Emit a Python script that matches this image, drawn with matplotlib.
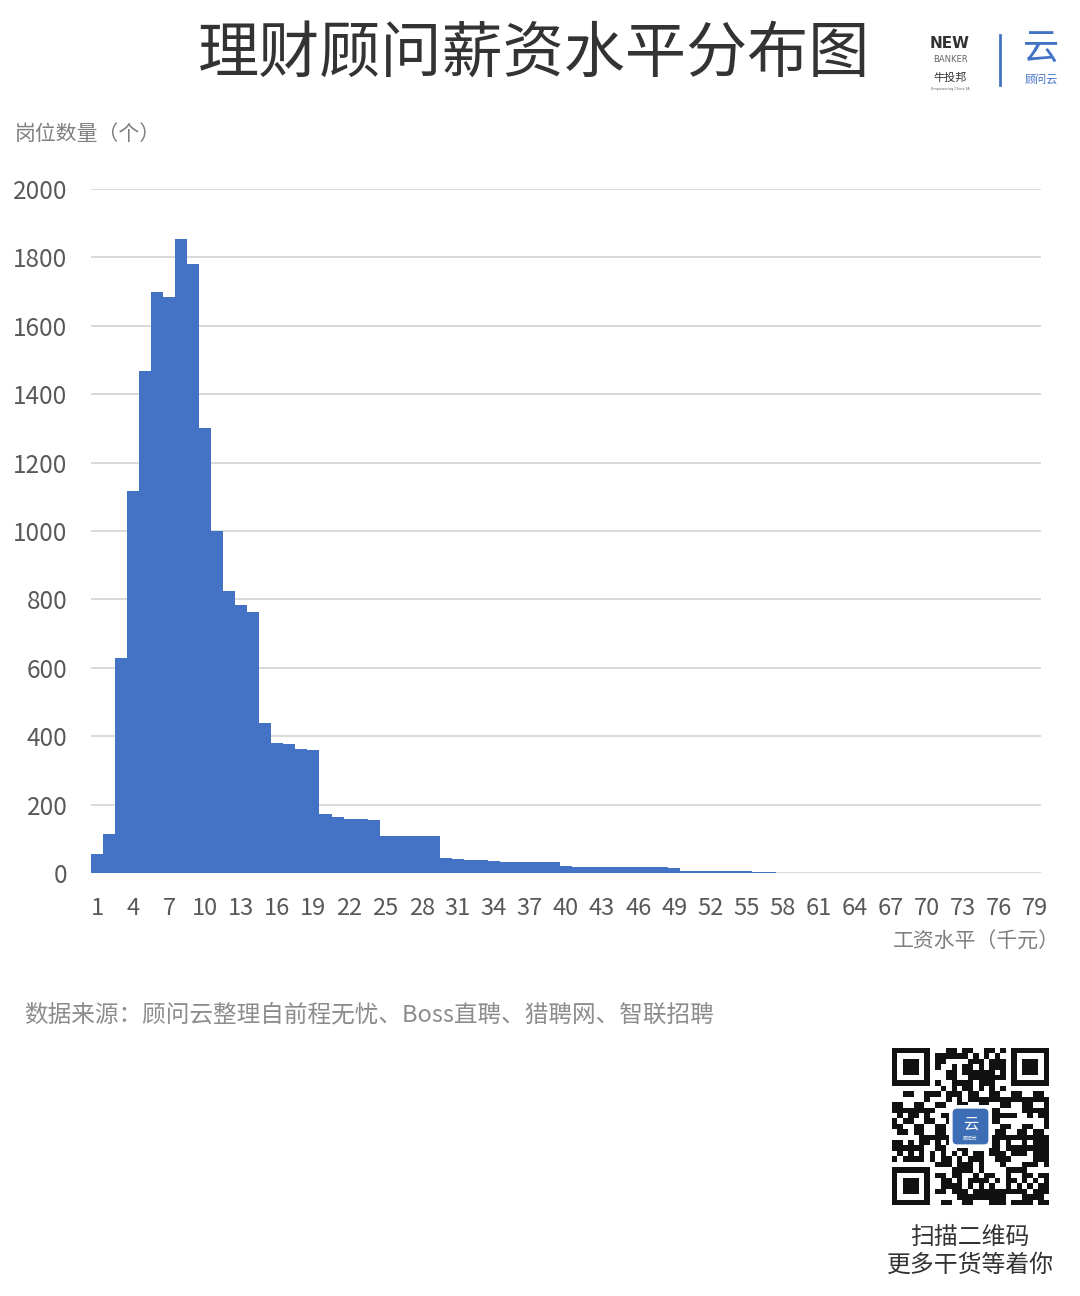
import matplotlib
matplotlib.use("Agg")
import matplotlib.pyplot as plt
from matplotlib.patches import FancyBboxPatch, Rectangle
import numpy as np

plt.rcParams['font.family'] = ['Noto Sans CJK SC', 'DejaVu Sans']

# ---------------- data ----------------
salary_levels = list(range(1, 80))   # 千元
job_counts = [
    55, 113, 629, 1116, 1468, 1698, 1684, 1855, 1780, 1300,
    1000, 825, 785, 763, 440, 380, 378, 362, 360, 173,
    164, 159, 158, 156, 109, 107, 107, 107, 107, 44,
    41, 39, 37, 35, 33, 32, 32, 31, 31, 21,
    18, 17, 17, 17, 17, 17, 17, 17, 16, 5,
    5, 5, 5, 5, 5, 4, 4, 0, 0, 0,
    0, 0, 0, 0, 0, 0, 0, 0, 0, 0,
    0, 0, 0, 0, 0, 0, 0, 0, 0,
]
x_ticks = list(range(1, 80, 3))
y_ticks = [0, 200, 400, 600, 800, 1000, 1200, 1400, 1600, 1800, 2000]

title = "理财顾问薪资水平分布图"
y_label = "岗位数量（个）"
x_label = "工资水平（千元）"
source = "数据来源：顾问云整理自前程无忧、Boss直聘、猎聘网、智联招聘"
qr_text1 = "扫描二维码"
qr_text2 = "更多干货等着你"

BLUE = '#4472C4'
W, H = 1080, 1296

fig = plt.figure(figsize=(W / 100, H / 100), dpi=100)
fig.patch.set_facecolor('white')

def fx(px):
    return px / W

def fy(py):
    return 1 - py / H

ax = fig.add_axes([fx(91), fy(873), fx(1041) - fx(91), fy(189) - fy(873)])
ax.bar(salary_levels, job_counts, width=1.0, color=BLUE, linewidth=0, zorder=3)
ax.set_xlim(0.5, 79.5)
ax.set_ylim(0, 2000)
ax.set_yticks(y_ticks)
ax.set_xticks(x_ticks)
ax.set_xticklabels([str(t) for t in x_ticks])
ax.grid(axis='y', color='#D9D9D9', linewidth=1.4, zorder=0)
ax.grid(axis='x', visible=False)
for s in ax.spines.values():
    s.set_visible(False)
ax.axhline(0, color='#D9D9D9', linewidth=1.4, zorder=2)
ax.tick_params(axis='y', length=0, pad=17, labelsize=17.5, labelcolor='#595959')
ax.tick_params(axis='x', length=0, pad=17, labelsize=17, labelcolor='#595959')

# axis titles
fig.text(fx(15), fy(134), y_label, fontsize=15, color='#7F7F7F', ha='left', va='center')
fig.text(fx(1060), fy(942), x_label, fontsize=15, color='#7F7F7F', ha='right', va='center')

# title
fig.text(fx(534), fy(54), title, fontsize=44, color='#333333', ha='center', va='center')

# logos (approximation)
fig.text(fx(950), fy(44), "NEW", fontsize=11, fontweight='bold', color='#333333',
         ha='center', va='center', family='DejaVu Sans')
fig.text(fx(950), fy(60), "BANKER", fontsize=6, color='#666666', ha='center', va='center',
         family='DejaVu Sans')
fig.text(fx(950), fy(78), "牛投邦", fontsize=8, color='#333333', ha='center', va='center')
fig.text(fx(950), fy(89), "Empowering China FA", fontsize=2.5, color='#666666',
         ha='center', va='center', family='DejaVu Sans')
fig.add_artist(plt.Line2D([fx(1000), fx(1000)], [fy(35), fy(85)], color=BLUE, linewidth=2))
fig.text(fx(1041), fy(50), "云", fontsize=26, color=BLUE, ha='center', va='center')
fig.text(fx(1041), fy(79), "顾问云", fontsize=8, color=BLUE, ha='center', va='center')

# source
fig.text(fx(24), fy(1015), source, fontsize=17, color='#8C8C8C', ha='left', va='center')

# QR code placeholder (decorative)
qx0, qy0, qsize, n = 892, 1048, 157, 29
qax = fig.add_axes([fx(qx0), fy(qy0 + qsize), fx(qsize), qsize / H])
qax.set_xlim(0, n)
qax.set_ylim(n, 0)
qax.axis('off')
def finder(r, c):
    qax.add_patch(Rectangle((c, r), 7, 7, color='#111111', linewidth=0))
    qax.add_patch(Rectangle((c + 1, r + 1), 5, 5, color='white', linewidth=0))
    qax.add_patch(Rectangle((c + 2, r + 2), 3, 3, color='#111111', linewidth=0))
for i in range(n):
    for j in range(n):
        if (i < 8 and j < 8) or (i < 8 and j >= n - 8) or (i >= n - 8 and j < 8):
            continue
        v = (i * 31 + j * 17 + (i * j) % 7 + (i ^ j) + (i * i * j) % 5) % 7
        if v in (0, 2, 3, 5):
            qax.add_patch(Rectangle((j, i), 1, 1, color='#111111', linewidth=0))
finder(0, 0)
finder(0, n - 7)
finder(n - 7, 0)
qax.add_patch(Rectangle((10.5, 10.5), 8, 8, color='white', linewidth=0))
qax.add_patch(FancyBboxPatch((11.2, 11.2), 6.6, 6.6, boxstyle='round,pad=0,rounding_size=0.8',
                             color='#3D6DB5', linewidth=0))
qax.text(14.5, 14.0, "云", fontsize=11, color='white', ha='center', va='center')
qax.text(14.5, 16.6, "顾问云", fontsize=3.5, color='white', ha='center', va='center')

fig.text(fx(970), fy(1237), qr_text1, fontsize=17.2, color='#333333', ha='center', va='center')
fig.text(fx(970), fy(1265), qr_text2, fontsize=17.2, color='#333333', ha='center', va='center')

fig.savefig('out.png', dpi=100, facecolor='white')
